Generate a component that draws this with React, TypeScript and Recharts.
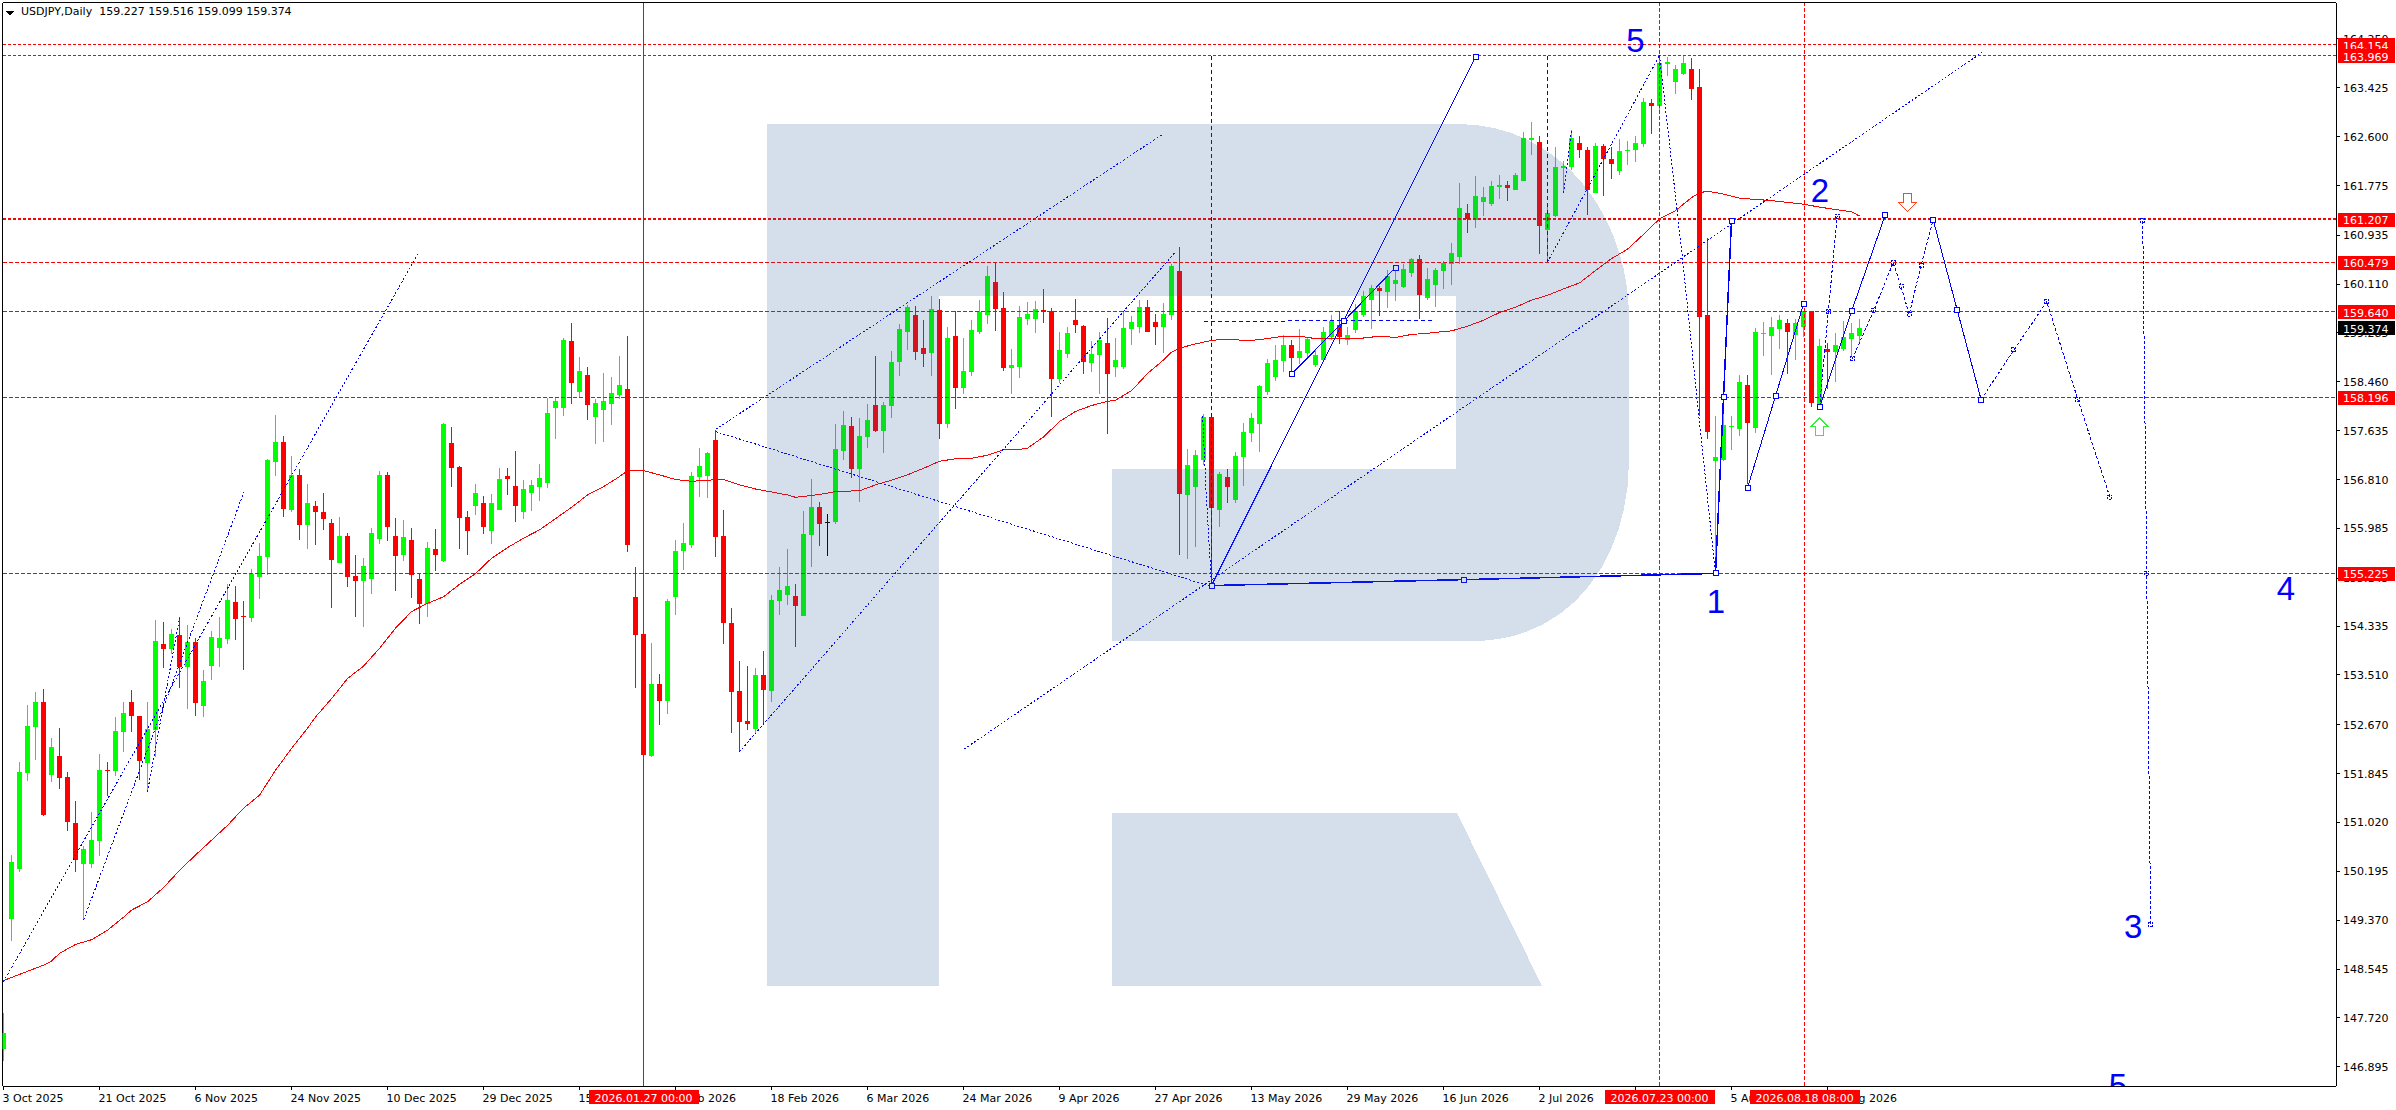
import { ComposedChart, Bar, Line, XAxis, YAxis, ReferenceLine, ReferenceDot } from "recharts";

const opens = [
  147.19,149.39,150.23,151.85,152.63,153.05,151.82,152.14,151.79,151.01,
  150.32,150.32,150.70,151.90,151.89,152.55,153.05,152.82,152.02,152.58,
  154.03,153.95,154.18,153.64,154.07,152.98,153.66,153.96,154.12,154.74,
  154.50,154.47,155.16,155.50,157.11,157.44,156.29,156.89,156.04,156.36,
  156.26,156.07,155.40,155.86,155.18,155.10,155.13,155.80,156.89,155.86,
  155.53,155.79,155.13,154.71,155.64,155.43,157.43,157.02,156.18,156.36,
  156.41,155.94,156.29,156.87,156.70,156.26,156.58,156.68,156.75,158.02,
  158.02,159.15,158.29,158.57,157.87,157.98,158.08,158.24,158.34,154.83,
  154.20,152.14,153.36,153.07,154.83,155.60,155.70,156.85,156.87,157.48,
  155.86,154.39,153.24,152.73,152.60,153.51,153.24,154.76,154.86,154.84,
  154.50,155.87,156.35,156.10,156.09,157.29,157.71,156.99,157.53,158.07,
  157.63,158.05,158.79,159.30,159.59,159.03,158.95,159.67,157.75,159.23,
  158.36,158.63,159.30,159.59,160.15,159.71,158.69,158.71,159.52,159.52,
  159.67,159.66,158.51,158.93,159.50,159.40,158.78,158.91,159.12,158.71,
  158.71,159.35,159.39,159.72,159.47,159.39,159.59,160.33,156.55,156.68,
  157.14,157.87,156.30,156.85,156.46,157.19,157.60,157.75,158.29,158.54,
  158.81,159.08,158.86,158.95,158.74,158.83,159.22,159.42,159.16,159.33,
  159.59,159.84,160.04,159.98,160.11,160.06,160.30,160.53,159.87,160.09,
  160.33,160.45,160.57,161.31,161.19,161.50,161.46,161.75,161.78,161.70,
  161.85,162.54,162.51,161.02,161.26,162.07,162.09,162.49,162.38,161.65,
  162.45,162.23,162.02,162.35,162.38,162.47,163.17,163.11,163.83,163.53,
  163.66,163.74,163.43,159.58,157.12,157.14,157.69,157.66,158.41,157.68,
  159.28,159.23,159.35,159.45,159.25,159.39,159.65,158.07,159.02,158.97,
  159.02,159.19,159.227,
];
const highs = [
  147.80,150.47,152.04,153.00,153.22,153.27,152.44,152.61,151.87,151.38,
  150.62,151.19,152.17,152.04,152.80,153.05,153.25,152.82,153.05,154.44,
  154.40,154.29,154.49,154.35,154.13,153.59,154.25,154.49,155.05,155.01,
  154.76,155.30,155.74,157.15,157.90,157.54,157.20,156.99,156.74,156.45,
  156.58,156.14,156.18,155.91,155.53,155.48,155.99,156.95,156.94,156.16,
  156.13,155.99,155.23,155.75,155.97,157.76,157.70,157.04,156.28,156.73,
  156.53,156.56,157.00,157.00,157.29,156.80,156.80,157.07,158.19,158.20,
  159.20,159.45,158.88,158.71,158.17,158.61,158.54,158.90,159.23,155.33,
  154.26,154.05,153.53,154.79,155.79,156.08,156.94,157.34,157.28,157.65,
  156.30,154.64,153.74,153.66,153.63,153.91,154.86,155.33,155.64,155.05,
  156.28,156.82,156.43,156.23,157.75,157.97,157.87,157.85,158.09,158.90,
  158.12,158.98,159.44,159.76,159.74,159.50,159.91,159.86,159.39,159.66,
  159.20,159.50,159.84,160.42,160.47,159.98,159.01,159.74,159.81,159.83,
  160.03,159.71,159.30,159.39,159.86,159.42,159.15,159.30,159.54,159.20,
  159.66,159.57,159.84,159.84,159.61,159.79,160.45,160.74,157.33,157.31,
  157.92,157.93,156.94,156.99,157.27,157.76,157.93,158.40,158.84,159.08,
  159.25,159.16,159.35,159.22,159.02,159.38,159.59,159.65,159.38,159.77,
  159.99,160.09,160.08,160.35,160.38,160.45,160.55,160.60,160.38,160.38,
  160.50,160.80,161.82,161.46,161.93,161.75,161.85,161.95,161.85,161.99,
  162.68,162.85,162.61,161.45,162.42,162.19,162.71,162.61,162.42,162.49,
  162.47,162.42,162.56,162.52,162.61,163.25,163.24,163.97,163.95,163.81,
  163.97,163.92,163.74,160.89,157.89,157.96,157.89,158.57,158.58,159.37,
  159.47,159.56,159.58,159.52,159.52,159.66,159.66,159.19,159.12,159.28,
  159.49,159.45,159.516,
];
const lows = [
  146.99,149.02,150.18,151.72,152.07,151.13,151.70,151.58,150.87,150.18,
  149.37,150.25,150.45,151.46,151.80,152.21,152.55,151.73,151.57,152.13,
  153.63,153.87,153.29,152.93,152.82,152.80,153.42,153.65,154.03,154.10,
  153.59,154.40,154.79,155.20,156.87,156.18,156.27,155.79,155.64,155.70,
  155.96,154.64,155.40,154.99,154.49,154.32,154.88,155.72,155.77,154.93,
  155.43,154.81,154.37,154.49,155.26,155.42,156.68,155.64,155.53,156.21,
  155.89,155.72,156.29,156.55,156.09,156.14,156.28,156.45,156.67,157.49,
  157.88,158.08,158.19,157.81,157.41,157.44,157.73,158.17,155.59,153.29,
  152.14,152.12,152.66,152.85,154.52,155.28,155.65,156.51,156.50,155.50,
  154.03,152.53,152.22,152.58,152.51,152.66,153.05,154.52,154.69,153.98,
  154.50,155.33,155.69,155.52,156.06,157.14,156.84,156.43,157.34,157.61,
  157.26,157.85,158.56,159.00,158.83,158.71,158.56,157.49,157.68,158.00,
  158.25,158.56,159.27,159.44,159.32,158.64,158.25,158.52,159.42,159.28,
  159.45,157.87,158.44,158.86,159.28,158.59,158.63,158.25,157.58,158.54,
  158.68,159.08,159.28,159.30,159.08,158.95,159.50,155.54,155.47,155.67,
  157.06,155.03,156.01,156.41,156.41,156.70,157.44,157.27,158.24,158.47,
  158.62,158.59,158.76,158.88,158.71,158.81,159.16,159.10,159.08,159.28,
  159.55,159.35,159.57,159.71,159.82,160.04,160.23,159.52,159.84,159.72,
  160.03,160.09,160.45,160.97,161.06,161.26,161.43,161.55,161.51,161.70,
  161.85,162.29,160.62,160.51,161.24,161.65,162.03,162.24,161.28,161.65,
  161.60,161.88,161.96,162.12,162.17,162.42,162.64,163.01,163.62,163.32,
  163.64,163.22,157.89,157.49,155.28,157.12,157.31,157.55,156.74,157.59,
  158.90,158.57,159.02,158.59,158.83,159.21,158.04,158.06,158.34,158.46,
  158.98,158.90,159.099,
];
const closes = [
  147.46,150.35,151.87,152.65,153.05,151.14,152.29,151.77,151.03,150.38,
  150.57,150.72,151.90,151.89,152.56,152.87,152.82,152.06,152.60,154.08,
  153.95,154.20,153.64,154.07,153.04,153.41,154.15,154.13,154.78,154.45,
  154.49,155.21,155.52,157.14,157.44,156.32,156.89,156.04,156.41,156.26,
  156.14,155.45,155.86,155.16,155.10,155.35,155.91,156.89,156.01,155.52,
  155.84,155.20,154.71,155.65,155.53,157.75,157.00,156.16,155.94,156.58,
  156.01,156.41,156.82,156.82,156.36,156.65,156.72,156.83,157.93,158.14,
  159.17,158.44,158.64,158.07,158.10,158.14,158.27,158.41,155.70,154.18,
  152.16,153.36,153.07,154.76,155.60,155.74,156.87,157.04,157.26,155.84,
  154.39,153.22,152.71,152.68,153.51,153.25,154.77,154.94,155.01,154.67,
  155.89,156.35,156.06,156.10,157.33,157.73,156.99,157.54,157.82,157.63,
  158.07,158.79,159.35,159.72,158.96,158.93,159.69,157.75,159.20,158.36,
  158.64,159.34,159.64,160.25,159.69,158.69,158.74,159.56,159.61,159.69,
  159.64,158.51,159.00,159.29,159.42,158.80,158.93,159.17,158.59,158.83,
  159.37,159.47,159.72,159.30,159.39,159.61,160.42,156.57,157.06,157.22,
  157.87,156.33,156.90,156.68,157.21,157.61,157.85,158.39,158.78,158.83,
  159.08,158.86,158.98,159.18,158.91,159.30,159.49,159.22,159.25,159.65,
  159.91,160.04,159.99,160.25,160.18,160.36,160.53,159.92,160.20,160.35,
  160.47,160.63,161.39,161.21,161.60,161.58,161.77,161.78,161.73,161.95,
  162.58,162.58,161.09,161.31,162.09,162.10,162.57,162.38,161.70,162.45,
  162.23,162.14,162.36,162.38,162.49,163.18,163.11,163.85,163.86,163.74,
  163.84,163.41,159.56,157.61,157.19,157.73,157.71,158.46,157.77,159.30,
  159.29,159.38,159.51,159.30,159.45,159.65,158.10,159.07,158.96,159.08,
  159.21,159.28,159.374,
];

const maIndex = [
  0,5,6,7,9,11,13,15,16,18,20,22,24,26,28,30,32,34,36,38,39,41,43,45,47,49,51,53,55,57,59,61,63,65,67,69,71,73,75,77,
  78,80,82,84,86,88,90,92,94,96,98,99,101,103,104,107,109,111,113,115,117,119,121,123,125,127,128,130,132,134,136,138,139,141,143,145,146,147,149,151,153,155,
  156,158,160,162,164,166,168,170,172,174,176,178,180,181,183,185,187,189,191,193,195,197,199,201,203,205,207,209,211,212,213,215,217,219,221,223,225,227,229,231,232,
];
const maValues = [
  148.35,148.61,148.68,148.81,148.96,149.04,149.20,149.42,149.54,149.68,149.92,150.21,150.47,150.72,150.97,151.26,151.48,151.90,152.27,152.61,152.80,153.11,153.45,153.66,153.96,154.30,154.58,154.72,154.83,155.04,155.22,155.48,155.66,155.82,155.96,156.15,156.34,156.55,156.69,156.86,
  156.96,156.96,156.89,156.81,156.78,156.80,156.81,156.72,156.65,156.60,156.55,156.51,156.54,156.58,156.61,156.62,156.72,156.80,156.89,157.00,157.12,157.16,157.17,157.22,157.31,157.32,157.34,157.53,157.79,157.96,158.06,158.13,158.15,158.31,158.60,158.83,158.96,159.03,159.10,159.16,159.18,159.16,
  159.16,159.19,159.23,159.23,159.19,159.19,159.19,159.20,159.23,159.21,159.26,159.28,159.31,159.32,159.40,159.50,159.63,159.72,159.84,159.92,160.03,160.13,160.34,160.54,160.70,160.95,161.21,161.35,161.57,161.65,161.68,161.63,161.56,161.54,161.52,161.49,161.46,161.41,161.37,161.33,161.26,
];

// x axis labels, one every 12 bars
const dateLabels = [
  "3 Oct 2025","21 Oct 2025","6 Nov 2025","24 Nov 2025","10 Dec 2025","29 Dec 2025","15 Jan 2026","2 Feb 2026","18 Feb 2026","6 Mar 2026",
  "24 Mar 2026","9 Apr 2026","27 Apr 2026","13 May 2026","29 May 2026","16 Jun 2026","2 Jul 2026","20 Jul 2026","5 Aug 2026","21 Aug 2026",
];
const priceTicks = [
  164.25,163.425,162.6,161.775,160.935,160.11,159.285,158.46,157.635,156.81,155.985,155.145,154.335,153.51,152.67,151.845,151.02,150.195,149.37,148.545,147.72,146.895,
];

// horizontal levels
const thinLevels = [160.479, 159.64, 158.196, 155.225];
const topLevels = [164.154, 163.969];
const mainLevel = 161.207;
const redBadges = [164.154, 163.969, 161.207, 160.479, 159.64, 158.196, 155.225];
const lastPrice = 159.374;

// vertical time markers
const timeMarks = [
  { i: 80, text: "2026.01.27 00:00", dashed: false },
  { i: 207, text: "2026.07.23 00:00", dashed: true },
  { i: 225.14, text: "2026.08.18 08:00", dashed: true },
];

// trend drawings as [bar, price]
const dottedChains = [
  [[0, 148.33], [51.8, 160.62]],
  [[10, 149.37], [30.06, 156.6]],
  [[18, 151.54], [22, 154.47]],
  [[89.04, 157.66], [144.9, 162.64]],
  [[89.04, 157.62], [151, 155.0]],
  [[120.1, 152.26], [247.3, 164.02]],
  [[91.97, 152.21], [146.6, 160.67]],
  [[149.9, 157.88], [150.3, 156.65], [151, 155.02]],
  [[193, 160.48], [207, 163.97]],
  [[195, 161.65], [196, 162.71]],
  [[207, 163.97], [209.8, 160.63], [211.9, 157.9], [214, 155.225]],
];
const dashedChains = [
  [[151, 163.97], [151, 155.02]],
  [[193, 163.97], [193, 160.48]],
  [[150, 159.48], [178.8, 159.5]],
];
const tickedChains = [
  [[231.1, 158.85], [233.8, 159.67], [236.2, 160.47], [237.2, 160.07], [238.2, 159.6], [239.7, 160.42], [241.2, 161.2]],
  [[227, 158.03], [228.1, 159.64], [229.2, 161.26]],
  [[247.2, 158.16], [251.3, 159.0], [255.4, 159.81], [259.3, 158.16], [263.3, 156.51]],
  [[267.4, 161.18], [267.9, 155.23], [268.4, 149.29]],
];
const solidThin = [
  [[151, 155.02], [184, 163.95]],
  [[161, 158.59], [167.5, 159.48], [174, 160.39]],
  [[241.2, 161.2], [244.2, 159.68], [247.2, 158.16]],
  [[218, 156.67], [221.5, 158.22], [225, 159.77]],
  [[227, 158.03], [231, 159.65], [235.2, 161.27]],
];
const solidThick = [
  [[151, 155.02], [182.5, 155.12], [214, 155.225]],
  [[214, 155.225], [215, 158.2], [216, 161.18]],
];

const waveLabels = [
  { text: "5", i: 204, p: 164.03 },
  { text: "2", i: 227.06, p: 161.5 },
  { text: "1", i: 214.06, p: 154.56 },
  { text: "3", i: 266.2, p: 149.07 },
  { text: "4", i: 285.3, p: 154.78 },
  { text: "5", i: 264.3, p: 146.38 },
];

const BULL = "#00ff00";
const BEAR = "#ff0000";
const BLUE = "#0000ff";
const FONT = "DejaVu Sans";
const X_MIN = -0.125;
const X_MAX = 291.56;
const Y_MIN = 146.57;
const Y_MAX = 164.865;
const AXIS_BOTTOM = 1086;

const candles = opens.map((o, i) => ({ i, o, h: highs[i], l: lows[i], c: closes[i], range: [lows[i], highs[i]] }));
const maData = maIndex.map((i, k) => ({ i, p: maValues[k] }));
const toPoints = (chain: number[][]) => chain.map(([i, p]) => ({ i, p }));

function Candle(props: any) {
  const { x, y, width, height, payload } = props;
  const { o, h, l, c } = payload;
  const left = Math.floor(x + width / 2);
  const perUnit = height / (h - l);
  const top = y + (h - Math.max(o, c)) * perUnit;
  const bodyH = Math.max(Math.abs(o - c) * perUnit, 1);
  const color = c > o ? BULL : c < o ? BEAR : "#000000";
  return (
    <g>
      <rect x={left} y={y} width={1} height={height} fill={color} />
      <rect x={left - 2} y={top} width={5} height={bodyH} fill={color} />
    </g>
  );
}

function SquareDot(props: any) {
  const { cx, cy, index } = props;
  return <rect key={index} x={cx - 2.5} y={cy - 2.5} width={5} height={5} fill="#ffffff" stroke={BLUE} strokeWidth={1} />;
}

function TickDot(props: any) {
  const { cx, cy, index } = props;
  return <rect key={index} x={cx - 2} y={cy - 2} width={4} height={4} fill="none" stroke={BLUE} strokeWidth={1} strokeDasharray="2 1" />;
}

// the reference dot passes its own fill and stroke down, so the badge colour goes under another name
function PriceBadge(props: any) {
  const { cx, cy, price, badgeColor } = props;
  return (
    <g>
      <rect x={cx + 2} y={cy - 6.5} width={57} height={14} fill={badgeColor} stroke="none" />
      <text x={cx + 7} y={cy + 5} fill="#ffffff" fontFamily={FONT} fontSize={11}>{price.toFixed(3)}</text>
    </g>
  );
}

function TimeBadge(props: any) {
  const { cx, cy, text } = props;
  return (
    <g>
      <rect x={cx - 55} y={cy + 4} width={110} height={14} fill={BEAR} />
      <text x={cx} y={cy + 15.5} textAnchor="middle" fill="#ffffff" fontFamily={FONT} fontSize={11}>{text}</text>
    </g>
  );
}

function WaveLabel(props: any) {
  const { cx, cy, text } = props;
  return (
    <g>
      <clipPath id={"wave" + Math.round(cx)}>
        <rect x={cx - 20} y={cy - 40} width={40} height={Math.min(60, AXIS_BOTTOM - cy + 40)} />
      </clipPath>
      <text x={cx} y={cy} textAnchor="middle" fill={BLUE} fontFamily="Liberation Sans" fontSize={33} clipPath={"url(#wave" + Math.round(cx) + ")"}>
        {text}
      </text>
    </g>
  );
}

function UpArrow(props: any) {
  const { cx, cy } = props;
  const pts = [[0, 0], [9, 9], [4, 9], [4, 18], [-4, 18], [-4, 9], [-9, 9]].map(([a, b]) => `${cx + a},${cy + b}`).join(" ");
  return <polygon points={pts} fill="#ffffff" stroke="#33ee33" strokeWidth={1} />;
}

function DownArrow(props: any) {
  const { cx, cy } = props;
  const pts = [[0, 0], [9, -9], [4, -9], [4, -18], [-4, -18], [-4, -9], [-9, -9]].map(([a, b]) => `${cx + a},${cy + b}`).join(" ");
  return <polygon points={pts} fill="#ffffff" stroke="#ff4422" strokeWidth={1} />;
}

function DateTick(props: any) {
  const { x, y, payload } = props;
  return (
    <text x={x - 1} y={y + 12} fill="#000000" fontFamily={FONT} fontSize={11}>
      {dateLabels[payload.value / 12]}
    </text>
  );
}

function PriceTick(props: any) {
  const { x, y, payload } = props;
  return (
    <text x={x + 3} y={y + 4} fill="#000000" fontFamily={FONT} fontSize={11}>
      {payload.value.toFixed(3)}
    </text>
  );
}

const overlayLine = (key: string, chain: number[][], width: number, dash: string | undefined, dot: any) => (
  <Line
    key={key}
    data={toPoints(chain)}
    dataKey="p"
    type="linear"
    stroke={BLUE}
    strokeWidth={width}
    strokeDasharray={dash}
    dot={dot}
    activeDot={false}
    legendType="none"
    isAnimationActive={false}
  />
);

const layer = { position: "absolute", left: 0, top: 0 } as const;

export default function App() {
  return (
    <div style={{ position: "absolute", left: 0, top: 0, width: 2396, height: 1110, background: "#ffffff", overflow: "hidden", shapeRendering: "crispEdges" }}>
      {/* axes live in their own chart underneath, so the price and time badges can cover their labels */}
      <div style={layer}>
        <ComposedChart width={2396} height={1110} data={candles} margin={{ top: 2.5, right: 0, bottom: 0, left: 2.5 }}>
          <XAxis
            dataKey="i"
            type="number"
            domain={[X_MIN, X_MAX]}
            allowDataOverflow
            ticks={dateLabels.map((_, k) => k * 12)}
            interval={0}
            tick={<DateTick />}
            tickSize={4}
            tickMargin={0}
            height={24}
            stroke="#000000"
          />
          <YAxis
            orientation="right"
            type="number"
            domain={[Y_MIN, Y_MAX]}
            allowDataOverflow
            ticks={priceTicks}
            interval={0}
            tick={<PriceTick />}
            tickSize={4}
            tickMargin={0}
            width={60}
            stroke="#000000"
          />
          <ReferenceLine x={X_MIN} stroke="#000000" />
          <ReferenceLine y={Y_MAX} stroke="#000000" />
        </ComposedChart>
      </div>

      <div style={layer}>
        <ComposedChart width={2396} height={1110} data={candles} margin={{ top: 2.5, right: 60, bottom: 24, left: 2.5 }}>
          <XAxis dataKey="i" type="number" domain={[X_MIN, X_MAX]} allowDataOverflow hide />
          <YAxis type="number" domain={[Y_MIN, Y_MAX]} allowDataOverflow hide />

          {topLevels.map((p) => (
            <ReferenceLine key={p} y={p} stroke={BEAR} strokeWidth={1} strokeDasharray="3 2" />
          ))}
          {thinLevels.map((p) => (
            <ReferenceLine key={p} y={p} stroke={BEAR} strokeWidth={1} strokeDasharray="4 2" />
          ))}
          <ReferenceLine y={mainLevel} stroke={BEAR} strokeWidth={2} strokeDasharray="3 2" />
          {timeMarks.map((m) => (
            <ReferenceLine key={m.i} x={m.i} stroke={BEAR} strokeWidth={1} strokeDasharray={m.dashed ? "4 2" : undefined} />
          ))}

          <Bar dataKey="range" barSize={5} shape={<Candle />} isAnimationActive={false} legendType="none" />
          <Line data={maData} dataKey="p" type="linear" stroke={BEAR} strokeWidth={1} dot={false} activeDot={false} legendType="none" isAnimationActive={false} />

          {dottedChains.map((c, k) => overlayLine("dotted" + k, c, 1, "2 2", false))}
          {dashedChains.map((c, k) => overlayLine("dashed" + k, c, 1, "4 3", false))}
          {tickedChains.map((c, k) => overlayLine("ticked" + k, c, 1, "3 2", <TickDot />))}
          {solidThin.map((c, k) => overlayLine("thin" + k, c, 1, undefined, <SquareDot />))}
          {solidThick.map((c, k) => overlayLine("thick" + k, c, 1.5, undefined, <SquareDot />))}

          {waveLabels.map((w) => (
            <ReferenceDot key={w.i} x={w.i} y={w.p} r={0} ifOverflow="visible" shape={<WaveLabel text={w.text} />} />
          ))}
          <ReferenceDot x={227} y={157.85} ifOverflow="visible" shape={<UpArrow />} />
          <ReferenceDot x={238} y={161.34} ifOverflow="visible" shape={<DownArrow />} />

          {redBadges.map((p) => (
            <ReferenceDot key={p} x={X_MAX} y={p} ifOverflow="visible" shape={<PriceBadge price={p} badgeColor={BEAR} />} />
          ))}
          <ReferenceDot x={X_MAX} y={lastPrice} ifOverflow="visible" shape={<PriceBadge price={lastPrice} badgeColor="#000000" />} />
          {timeMarks.map((m) => (
            <ReferenceDot key={m.i} x={m.i} y={Y_MIN} ifOverflow="visible" shape={<TimeBadge text={m.text} />} />
          ))}
        </ComposedChart>
      </div>

      {/* watermark sits over the chart, it tints whatever is under it */}
      <svg width={2396} height={1110} style={{ ...layer, pointerEvents: "none" }}>
        <path
          d="M767,124 H1458 C1560,124 1629,215 1629,318 V460 C1629,560 1570,641 1473,641 H1112 V469 H1456 V296 H939 V986 H767 Z M1112,813 H1457 L1542,986 H1112 Z"
          fill="rgba(45,95,155,0.2)"
        />
      </svg>

      <svg width={16} height={16} style={{ position: "absolute", left: 4, top: 6 }}>
        <polygon points="2,5 10,5 6,10" fill="#000000" />
      </svg>
      <div style={{ position: "absolute", left: 21, top: 5, fontFamily: FONT, fontSize: 11, color: "#000000", whiteSpace: "pre" }}>
        USDJPY,Daily  159.227 159.516 159.099 159.374
      </div>
    </div>
  );
}
